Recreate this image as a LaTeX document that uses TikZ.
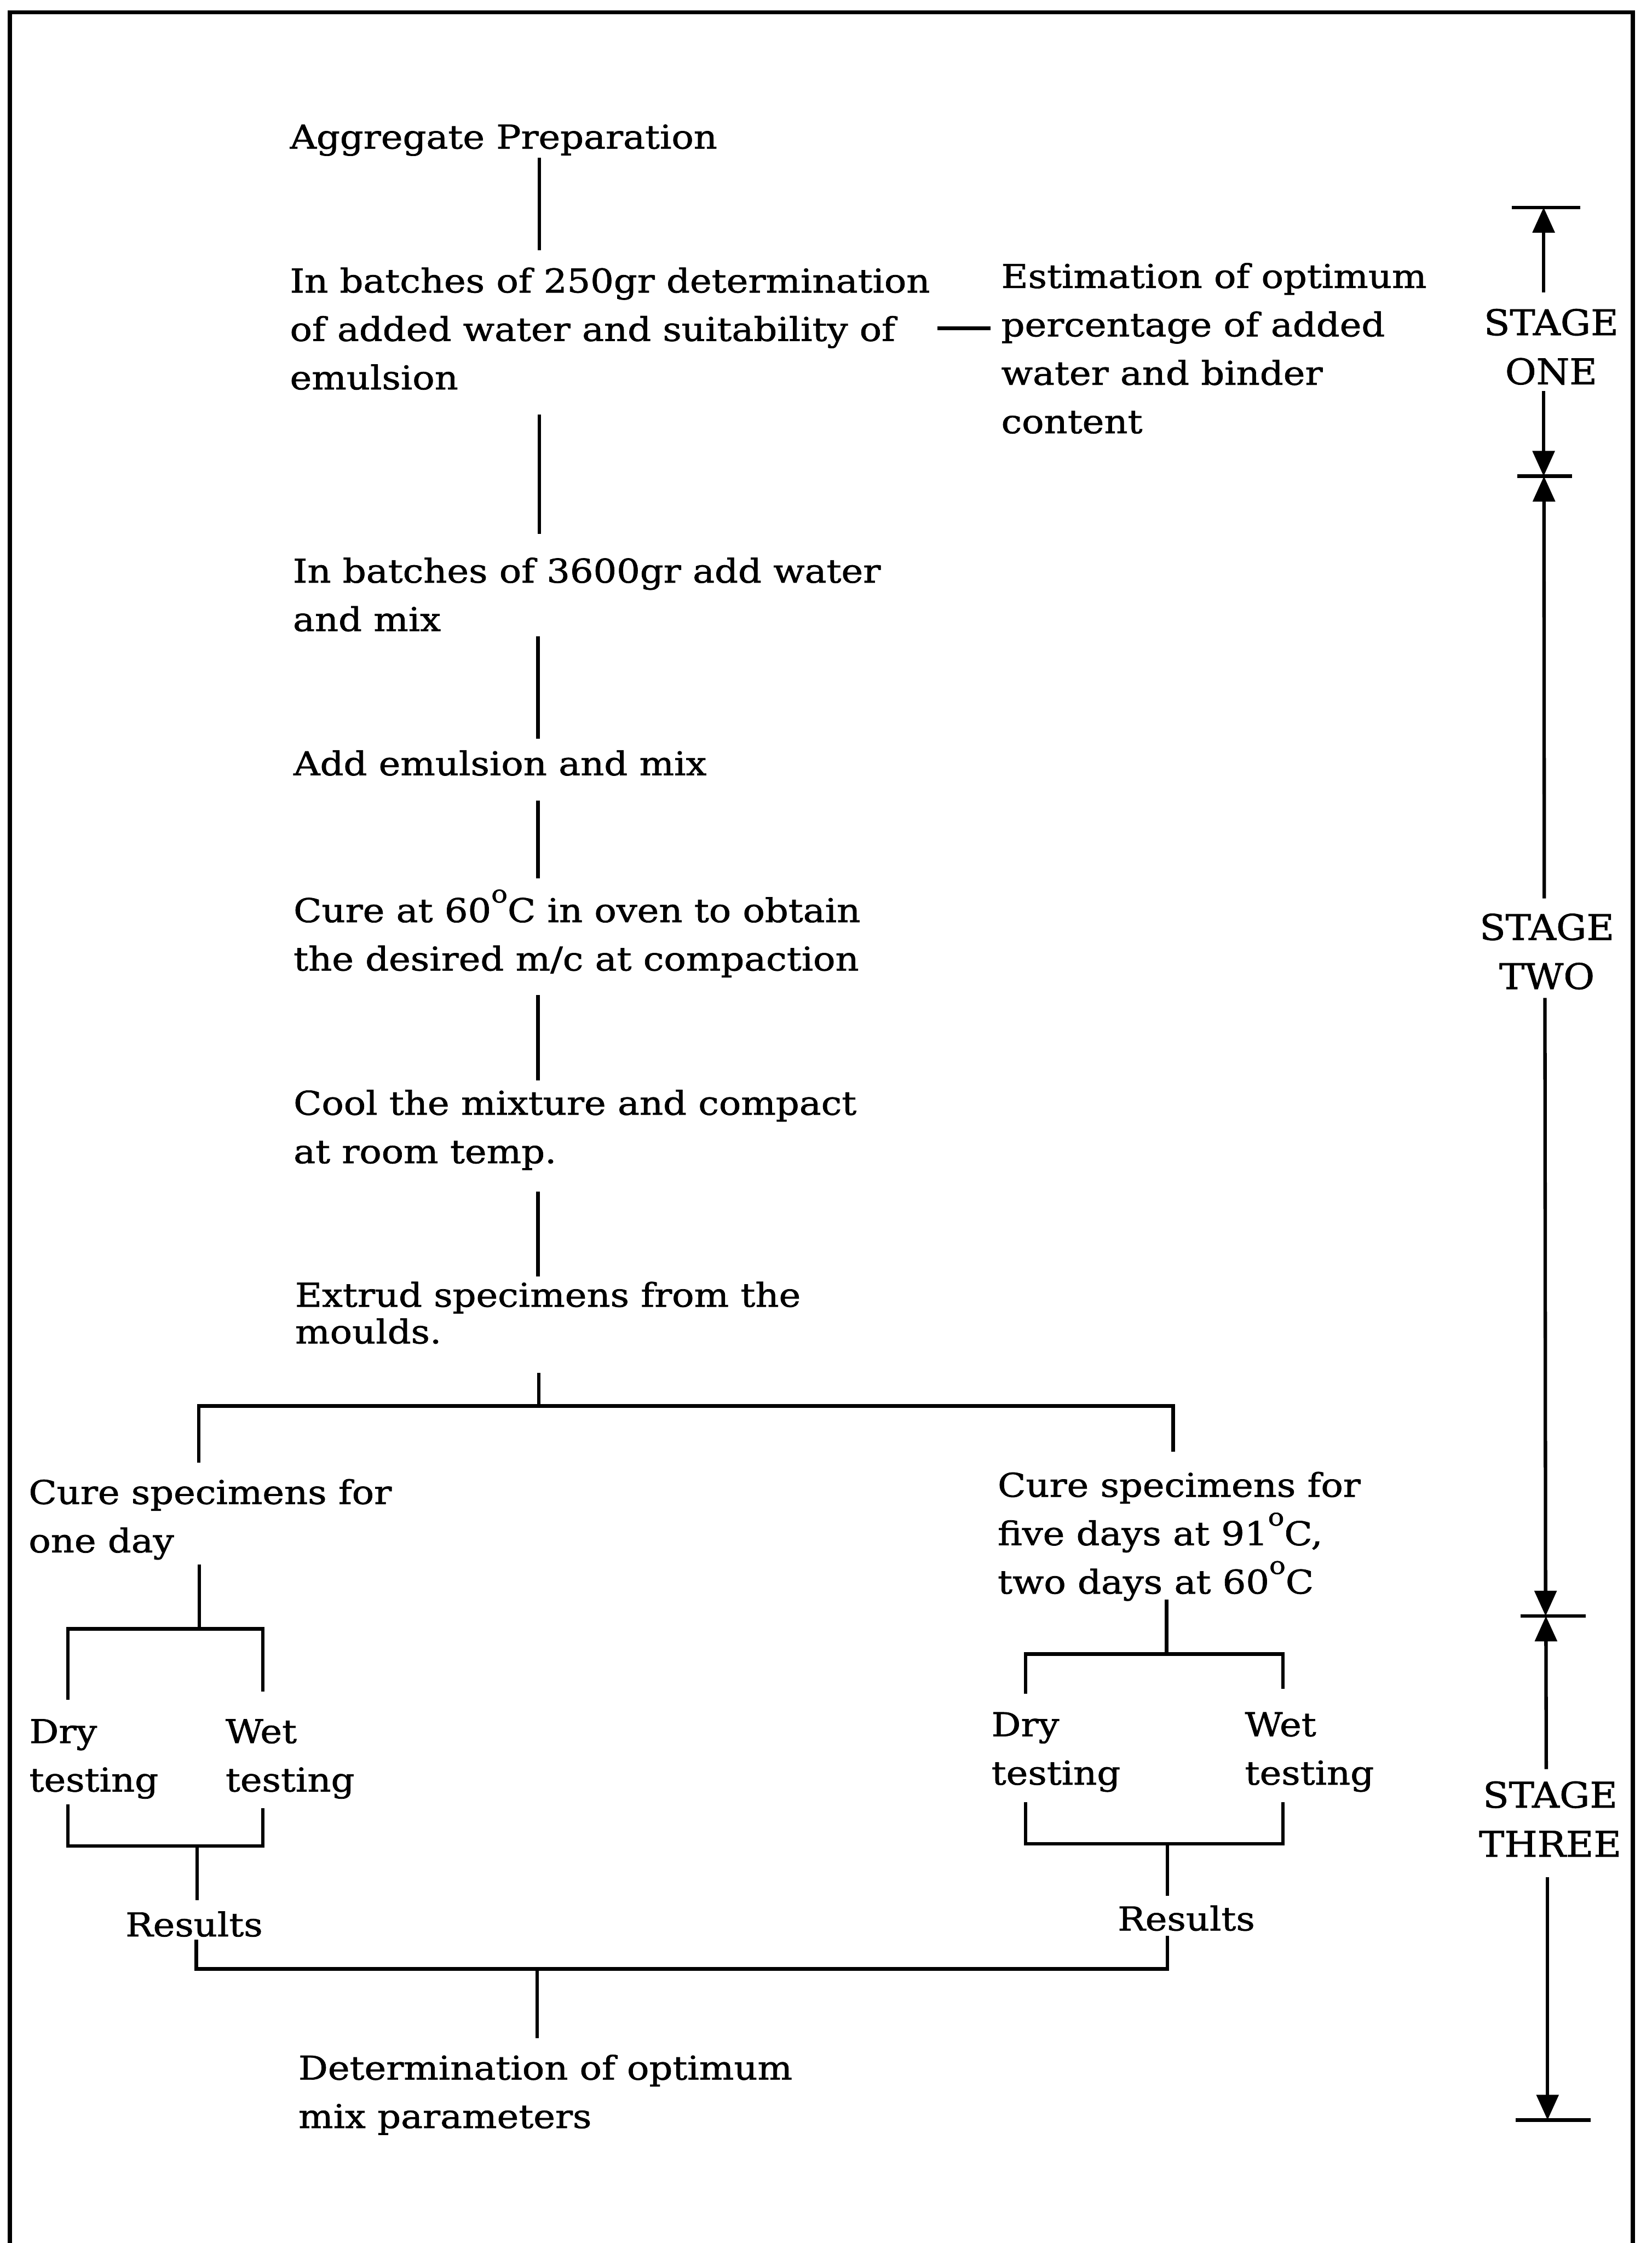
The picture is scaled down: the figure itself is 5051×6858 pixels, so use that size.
\documentclass[tikz,border=0pt]{standalone}
\usepackage{fontspec}
\setmainfont{DejaVu Serif}[FakeStretch=1.12,FakeBold=1.2]
\newfontfamily\stagefam{DejaVu Serif}[FakeStretch=1.07,FakeBold=1.2]
\usetikzlibrary{arrows.meta}
\newcommand\bodyfont{\fontsize{28.5}{42.1}\selectfont}
\newcommand\tightfont{\fontsize{28.5}{31.9}\selectfont}
\newcommand\stagefont{\stagefam\fontsize{30.8}{42.7}\selectfont}
\newcommand\dg{\raisebox{0.6em}{\fontsize{21}{21}\selectfont o}}
\begin{document}
\begin{tikzpicture}[x=0.01cm,y=-0.01cm,
  txt/.style={anchor=north west, inner sep=0pt, align=left, font=\bodyfont},
  stg/.style={anchor=north, inner sep=0pt, align=center, font=\stagefont},
  conn/.style={line width=3pt},
  stagebar/.style={line width=3pt},
  stagearrow/.style={line width=3pt, -{Triangle[length=22pt,width=19pt]}},
  frame/.style={line width=3.5pt}]
\useasboundingbox[fill=white] (0,0) rectangle (5051,6858);
% frame
\draw[frame] (30,6870) -- (30,38) -- (4993,38) -- (4993,6870);

% texts
\node[txt] (agg) at (886,350) {\strut Aggregate Preparation};
\node[txt] (b250) at (886,790) {\strut In batches of 250gr determination\\of added water and suitability of\\emulsion};
\node[txt] (est) at (3061,776) {\strut Estimation of optimum\\percentage of added\\water and binder\\content};
\node[txt] (b3600) at (895,1677) {\strut In batches of 3600gr add water\\and mix};
\node[txt] (addem) at (897,2266) {\strut Add emulsion and mix};
\node[txt] (cure60) at (897,2715) {\strut Cure at 60\dg C in oven to obtain\\the desired m/c at compaction};
\node[txt] (cool) at (897,3304) {\strut Cool the mixture and compact\\at room temp.};
\node[txt,font=\tightfont] (extrud) at (902,3916) {\strut Extrud specimens from the\\moulds.};
\node[txt] (cure1) at (87,4494) {\strut Cure specimens for\\one day};
\node[txt] (cure5) at (3050,4472) {\strut Cure specimens for\\five days at 91\dg C,\\two days at 60\dg C};
\node[txt] (dry1) at (89,5225) {\strut Dry\\testing};
\node[txt] (wet1) at (689,5225) {\strut Wet\\testing};
\node[txt] (dry2) at (3031,5204) {\strut Dry\\testing};
\node[txt] (wet2) at (3806,5204) {\strut Wet\\testing};
\node[txt] (res1) at (383,5816) {\strut Results};
\node[txt] (res2) at (3417,5798) {\strut Results};
\node[txt] (det) at (912,6254) {\strut Determination of optimum\\mix parameters};

\node[stg] (st1) at (4743,919) {\strut STAGE\\ONE};
\node[stg] (st2) at (4730,2768) {\strut STAGE\\TWO};
\node[stg] (st3) at (4740,5421) {\strut STAGE\\THREE};

% main column connectors
\coordinate (c1a) at (1649,483);  \coordinate (c1b) at (1649,765);
\coordinate (c2a) at (1649,1268); \coordinate (c2b) at (1649,1633);
\coordinate (c3a) at (1645,1946); \coordinate (c3b) at (1645,2258);
\coordinate (c4a) at (1645,2447); \coordinate (c4b) at (1645,2686);
\coordinate (c5a) at (1645,3043); \coordinate (c5b) at (1645,3303);
\coordinate (c6a) at (1645,3644); \coordinate (c6b) at (1645,3903);
\coordinate (c7a) at (1648,4198); \coordinate (c7b) at (1648,4299);
\coordinate (dA) at (2867,1004);  \coordinate (dB) at (3028,1004);
\draw[conn] (c1a) -- (c1b);
\draw[conn] (c2a) -- (c2b);
\draw[conn] (c3a) -- (c3b);
\draw[conn] (c4a) -- (c4b);
\draw[conn] (c5a) -- (c5b);
\draw[conn] (c6a) -- (c6b);
\draw[conn] (c7a) -- (c7b);
\draw[conn] (dA) -- (dB);

% first split
\coordinate (sL) at (608,4472); \coordinate (sR) at (3587,4438);
\draw[conn] (sL) -- (608,4299) -- (3587,4299) -- (sR);

% left branch
\coordinate (l1a) at (610,4783); \coordinate (l1b) at (610,4980);
\draw[conn] (l1a) -- (l1b);
\coordinate (lbL) at (208,5197); \coordinate (lbR) at (804,5172);
\draw[conn] (lbL) -- (208,4980) -- (804,4980) -- (lbR);
\coordinate (luL) at (208,5516); \coordinate (luR) at (804,5529);
\draw[conn] (luL) -- (208,5644) -- (804,5644) -- (luR);
\coordinate (l2a) at (603,5644); \coordinate (l2b) at (603,5809);
\draw[conn] (l2a) -- (l2b);

% right branch
\coordinate (r1a) at (3567,4891); \coordinate (r1b) at (3567,5057);
\draw[conn] (r1a) -- (r1b);
\coordinate (rbL) at (3136,5178); \coordinate (rbR) at (3923,5163);
\draw[conn] (rbL) -- (3136,5057) -- (3923,5057) -- (rbR);
\coordinate (ruL) at (3136,5510); \coordinate (ruR) at (3923,5510);
\draw[conn] (ruL) -- (3136,5637) -- (3923,5637) -- (ruR);
\coordinate (r2a) at (3570,5637); \coordinate (r2b) at (3570,5797);
\draw[conn] (r2a) -- (r2b);

% join
\coordinate (jL) at (600,5931); \coordinate (jR) at (3570,5918);
\draw[conn] (jL) -- (600,6020) -- (3570,6020) -- (jR);
\coordinate (j1) at (1643,6020); \coordinate (j2) at (1643,6232);
\draw[conn] (j1) -- (j2);

% stage markers
\coordinate (b1L) at (4622,634);  \coordinate (b1R) at (4832,634);
\coordinate (b2L) at (4639,1456); \coordinate (b2R) at (4807,1456);
\coordinate (b3L) at (4649,4941); \coordinate (b3R) at (4848,4941);
\coordinate (b4L) at (4635,6482); \coordinate (b4R) at (4863,6482);
\draw[stagebar] (b1L) -- (b1R);
\draw[stagebar] (b2L) -- (b2R);
\draw[stagebar] (b3L) -- (b3R);
\draw[stagebar] (b4L) -- (b4R);
\coordinate (a1) at (4720,894);
\coordinate (a2) at (4720,1196);
\coordinate (a3) at (4722,2747);
\coordinate (a4) at (4724,3051);
\coordinate (a5) at (4728,5409);
\coordinate (a6) at (4732,5739);
\draw[stagearrow] (a1) -- (4720,634);
\draw[stagearrow] (a2) -- (4720,1456);
\draw[stagearrow] (a3) -- (4721,1456);
\draw[stagearrow] (a4) -- (4726,4941);
\draw[stagearrow] (a5) -- (4727,4941);
\draw[stagearrow] (a6) -- (4732,6482);
\end{tikzpicture}
\end{document}
